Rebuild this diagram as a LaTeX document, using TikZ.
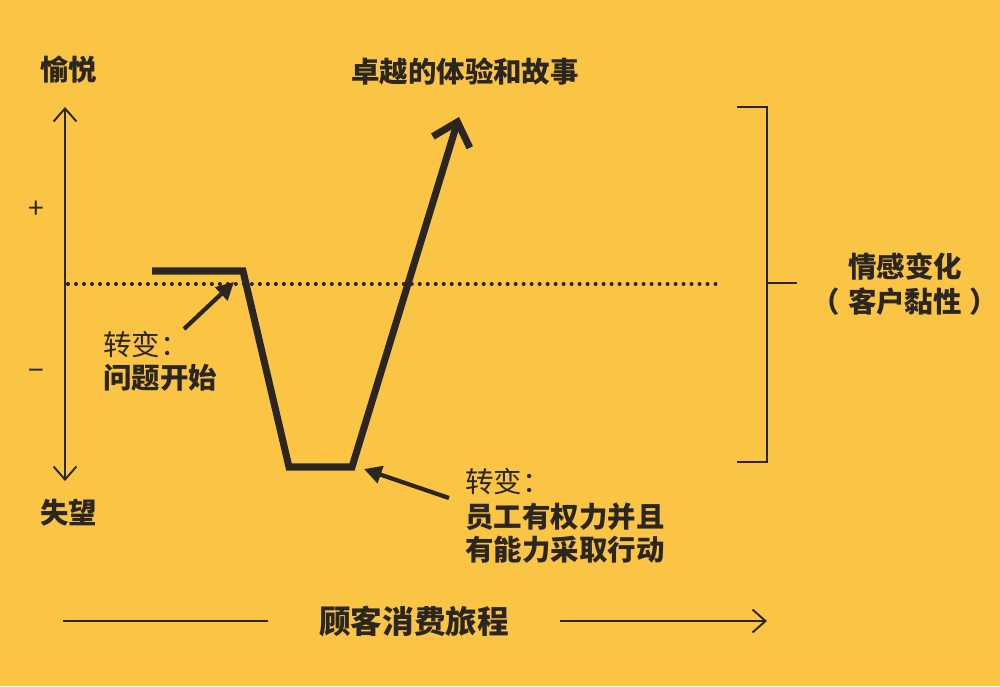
\documentclass[tikz,border=0pt]{standalone}
\usepackage{fontspec}
\setmainfont{Noto Sans CJK SC}
\usetikzlibrary{arrows.meta}
\definecolor{bg}{RGB}{250,197,68}
\definecolor{ink}{RGB}{43,38,34}
\tikzset{openhead/.tip={Straight Barb[length=7.4pt,width=13pt]}}
\begin{document}
\begin{tikzpicture}[x=0.02cm,y=-0.02cm,
  lbl/.style={text=ink, font=\fontsize{16.2pt}{20pt}\selectfont\bfseries, inner sep=0pt},
  lblr/.style={text=ink, font=\fontsize{16.2pt}{20pt}\selectfont, inner sep=0pt},
  biglbl/.style={text=ink, font=\fontsize{18pt}{22pt}\selectfont\bfseries, inner sep=0pt},
  sign/.style={text=ink, font=\fontsize{16pt}{18pt}\selectfont, inner sep=0pt},
  axisline/.style={draw=ink, line width=1.1pt},
  dotline/.style={draw=ink, line width=2.3pt, line cap=round, dash pattern=on 0pt off 4.55pt},
  curve/.style={draw=ink, line width=4pt, line join=miter},
  pointer/.style={draw=ink, line width=2.4pt, -{Triangle[length=10pt,width=10pt]}}]
\fill[bg] (0,0) rectangle (1000,686);
\useasboundingbox (0,0) rectangle (1000,686);

% vertical axis
\coordinate (ytop) at (65,107);
\coordinate (ybot) at (65,481);
\draw[axisline, openhead-openhead] (ytop) -- (ybot);
\node[lbl, anchor=west] (joy) at (40,70) {愉悦};
\node[lbl, anchor=west] (dis) at (40,513) {失望};
\node[sign] (plus) at (36,210) {+};
\node[sign] (minus) at (36,375) {−};

% dotted baseline
\coordinate (dl) at (68,284);
\coordinate (dr) at (719,284);
\draw[dotline] (dl) -- (dr);

% journey curve
\coordinate (s) at (152,271);
\coordinate (c1) at (243,271);
\coordinate (c2) at (289,467);
\coordinate (c3) at (352,467);
\coordinate (peak) at (459,117);
\draw[curve, -{Straight Barb[length=12pt,width=22pt]}] (s) -- (c1) -- (c2) -- (c3) -- (peak);
\node[lbl] (excel) at (465,72) {卓越的体验和故事};

% first turning point
\node[lblr, anchor=west] (t1a) at (103,345) {转变：};
\node[lbl, anchor=west] (t1b) at (103,378) {问题开始};
\coordinate (a1s) at (184,329);
\coordinate (a1e) at (234,282);
\draw[pointer] (a1s) -- (a1e);

% second turning point
\node[lblr, anchor=west] (t2a) at (465,482) {转变：};
\node[lbl, anchor=west] (t2b) at (465,517) {员工有权力并且};
\node[lbl, anchor=west] (t2c) at (465,550) {有能力采取行动};
\coordinate (a2s) at (449,498);
\coordinate (a2e) at (364,469);
\draw[pointer] (a2s) -- (a2e);

% bracket
\coordinate (bt1) at (737,107);
\coordinate (bt2) at (767,107);
\coordinate (bb2) at (767,462);
\coordinate (bb1) at (737,462);
\coordinate (bm) at (767,283);
\coordinate (bm2) at (797,283);
\draw[axisline] (bt1) -- (bt2) -- (bb2) -- (bb1);
\draw[axisline] (bm) -- (bm2);
\node[lbl] (emo1) at (905,267) {情感变化};
\node[lbl] (emo2) at (905,302) {（\hspace{4.5pt}客户黏性\hspace{4.5pt}）};

% bottom journey axis
\node[biglbl] (journey) at (414,621) {顾客消费旅程};
\coordinate (jl1) at (63,621);
\coordinate (jl2) at (268,621);
\coordinate (jr1) at (560,621);
\coordinate (jr2) at (767,621);
\draw[axisline] (jl1) -- (jl2);
\draw[axisline, -openhead] (jr1) -- (jr2);
\end{tikzpicture}
\end{document}
